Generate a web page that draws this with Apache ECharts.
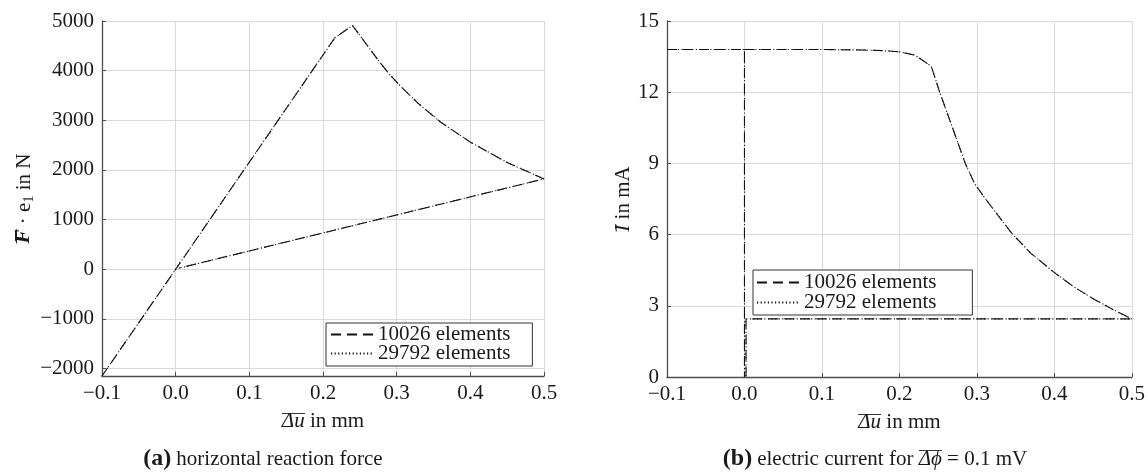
<!DOCTYPE html>
<html><head><meta charset="utf-8">
<script src="https://cdn.jsdelivr.net/npm/echarts@6/dist/echarts.min.js"></script>
<style>html,body{margin:0;padding:0;background:#fff}#c{width:1148px;height:473px}</style>
</head><body><div id="c"></div>
<script>
// ---- data ----
const seriesNames = ['10026 elements', '29792 elements'];
// (a) horizontal reaction force
const dispA_10026 = [-0.1, 0, 0.216, 0.24, 0.258, 0.276, 0.29, 0.305, 0.33, 0.36, 0.4, 0.45, 0.5, 0.004];
const forceA_10026 = [-2150, 0, 4660, 4910, 4550, 4190, 3930, 3690, 3330, 2960, 2560, 2150, 1820, 20];
const dispA_29792 = [-0.1, 0, 0.216, 0.24, 0.258, 0.276, 0.29, 0.305, 0.33, 0.36, 0.4, 0.45, 0.5, 0.004];
const forceA_29792 = [-2150, 0, 4660, 4910, 4550, 4190, 3930, 3690, 3330, 2960, 2560, 2150, 1820, 20];
// (b) electric current ('-' = break in the path)
const dispB_10026 = [-0.1, 0, 0, 0, 0, 0.1, 0.15, 0.18, 0.2, 0.22, 0.241, 0.252, 0.285, 0.297, 0.31, 0.324, 0.345, 0.37, 0.4, 0.425, 0.45, 0.475, 0.5, 0.002, 0.002];
const curB_10026 = [13.8, 13.8, 0, '-', 13.8, 13.8, 13.78, 13.75, 13.7, 13.56, 13.1, 12.0, 9.0, 8.15, 7.55, 6.95, 6.05, 5.2, 4.4, 3.8, 3.3, 2.85, 2.45, 2.45, 0];
const dispB_29792 = [-0.1, 0, 0, 0, 0, 0.1, 0.15, 0.18, 0.2, 0.22, 0.241, 0.252, 0.285, 0.297, 0.31, 0.324, 0.345, 0.37, 0.4, 0.425, 0.45, 0.475, 0.5, 0.002, 0.002];
const curB_29792 = [13.8, 13.8, 0, '-', 13.8, 13.8, 13.78, 13.75, 13.7, 13.56, 13.1, 12.0, 9.0, 8.15, 7.55, 6.95, 6.05, 5.2, 4.4, 3.8, 3.3, 2.85, 2.45, 2.45, 0];
// axis ranges / ticks
const xRange = [-0.1, 0.5], xStep = 0.1;
const forceRange = [-2150, 5000];
const curRange = [0, 15], curStep = 3;

// ---- styling ----
const FONT = "'Liberation Serif', 'DejaVu Serif', serif";
const AX = '#4d4d4d';
const TXT = '#1a1a1a';
function zip(xs, ys) { return xs.map((x, i) => [x, ys[i]]); }
function fmtX(v) { return (Math.round(v * 10) / 10).toFixed(1).replace('-', '\u2212'); }
function fmtY(v) { return String(Math.round(v)).replace('-', '\u2212'); }
function overline(h, row) {
  const c = document.createElement('canvas');
  c.width = 8; c.height = h;
  const g = c.getContext('2d');
  g.fillStyle = '#1a1a1a';
  g.fillRect(0, row, 8, 1);
  return c;
}
const OV = overline(24, 3);
const richBase = {
  n: { fontFamily: FONT, fontSize: 21, color: TXT, lineHeight: 24 },
  ov: { fontFamily: FONT, fontSize: 21, fontStyle: 'italic', color: TXT, lineHeight: 24, backgroundColor: { image: OV } },
  ovb: { fontFamily: FONT, fontSize: 21, fontStyle: 'italic', fontWeight: 'bold', color: TXT, lineHeight: 24, backgroundColor: { image: OV } },
  sub: { fontFamily: FONT, fontSize: 14, color: TXT, lineHeight: 24, verticalAlign: 'bottom', padding: [6, 0, 0, 0] }
};

function xAxisCfg(gi) {
  return {
    type: 'value', gridIndex: gi, min: xRange[0], max: xRange[1], interval: xStep,
    axisLine: { show: true, onZero: false, lineStyle: { color: AX, width: 1.3 } },
    axisTick: { show: true, inside: true, length: 4, lineStyle: { color: AX } },
    axisLabel: { formatter: fmtX, fontFamily: FONT, fontSize: 21, color: TXT, margin: 7 },
    splitLine: { show: true, lineStyle: { color: '#d9d9d9', width: 1 } },
    name: '{ov|\u0394u}{n| in mm}', nameLocation: 'middle', nameGap: 33,
    nameTextStyle: { fontFamily: FONT, fontSize: 21, color: TXT, rich: richBase }
  };
}
function lineSeries(name, xi, yi, data, dashed) {
  return {
    type: 'line', name, xAxisIndex: xi, yAxisIndex: yi, data, symbol: 'none', animation: false,
    connectNulls: false, color: '#111',
    itemStyle: { color: '#111' },
    lineStyle: { color: '#111', width: 1.1, type: dashed ? [10, 6] : [1.2, 2.4], cap: 'butt' },
    z: dashed ? 3 : 4
  };
}
function legendCfg(left, top, pad, gap) {
  return {
    data: seriesNames, orient: 'vertical', left, top, itemWidth: 42, itemHeight: 14, itemGap: gap,
    padding: pad, borderColor: '#333', borderWidth: 1, borderRadius: 0, backgroundColor: '#fff',
    itemStyle: { color: 'rgba(0,0,0,0)', borderColor: 'rgba(0,0,0,0)', borderWidth: 0 },
    textStyle: { fontFamily: FONT, fontSize: 21, color: TXT }, z: 10
  };
}
const capRich = (extra) => Object.assign({
  b: { fontFamily: FONT, fontSize: 24, fontWeight: 'bold', color: TXT, lineHeight: 28 },
  n: { fontFamily: FONT, fontSize: 21, fontWeight: 'normal', color: TXT, lineHeight: 28 }
}, extra || {});

const option = {
  backgroundColor: '#fff',
  animation: false,
  grid: [
    { left: 102, top: 21, width: 442, height: 355 },
    { left: 667, top: 21, width: 465, height: 356 }
  ],
  xAxis: [xAxisCfg(0), xAxisCfg(1)],
  yAxis: [
    {
      type: 'value', gridIndex: 0, min: forceRange[0], max: forceRange[1], splitNumber: 7,
      axisLine: { show: true, onZero: false, lineStyle: { color: AX, width: 1.3 } },
      axisTick: { show: true, inside: true, length: 4, lineStyle: { color: AX } },
      axisLabel: { formatter: fmtY, fontFamily: FONT, fontSize: 21, color: TXT, margin: 8, showMinLabel: false },
      splitLine: { show: true, lineStyle: { color: '#d9d9d9', width: 1 } },
      name: '{ovb|F}{n| \u00b7 e}{sub|1}{n| in N}', nameLocation: 'middle', nameGap: 66,
      nameTextStyle: { fontFamily: FONT, fontSize: 21, color: TXT, rich: richBase }
    },
    {
      type: 'value', gridIndex: 1, min: curRange[0], max: curRange[1], interval: curStep,
      axisLine: { show: true, onZero: false, lineStyle: { color: AX, width: 1.3 } },
      axisTick: { show: true, inside: true, length: 4, lineStyle: { color: AX } },
      axisLabel: { formatter: fmtY, fontFamily: FONT, fontSize: 21, color: TXT, margin: 8 },
      splitLine: { show: true, lineStyle: { color: '#d9d9d9', width: 1 } },
      name: '{ov|I}{n| in mA}', nameLocation: 'middle', nameGap: 30,
      nameTextStyle: { fontFamily: FONT, fontSize: 21, color: TXT, rich: richBase }
    }
  ],
  legend: [
    legendCfg(326, 323, [1, 22, 2, 4], -2),
    legendCfg(753, 270, [2, 36, 2, 3], -1)
  ],
  title: [
    {
      text: '{b|(a)} {n|horizontal reaction force}', left: 263, top: 445, textAlign: 'center', padding: 0,
      textStyle: { fontWeight: 'normal', rich: capRich() }
    },
    {
      text: '{b|(b)} {n|electric current for }{ov|\u0394\u03d5}{n| = 0.1 mV}', left: 875, top: 445, textAlign: 'center', padding: 0,
      textStyle: { fontWeight: 'normal', rich: capRich({
        ov: { fontFamily: FONT, fontSize: 21, fontStyle: 'italic', fontWeight: 'normal', color: TXT, lineHeight: 28, backgroundColor: { image: overline(28, 2) } }
      }) }
    }
  ],
  series: [
    lineSeries(seriesNames[0], 0, 0, zip(dispA_10026, forceA_10026), true),
    lineSeries(seriesNames[1], 0, 0, zip(dispA_29792, forceA_29792), false),
    lineSeries(seriesNames[0], 1, 1, zip(dispB_10026, curB_10026), true),
    lineSeries(seriesNames[1], 1, 1, zip(dispB_29792, curB_29792), false)
  ]
};
const chart = echarts.init(document.getElementById('c'), null, { renderer: 'canvas' });
chart.setOption(option);
</script>
</body></html>
